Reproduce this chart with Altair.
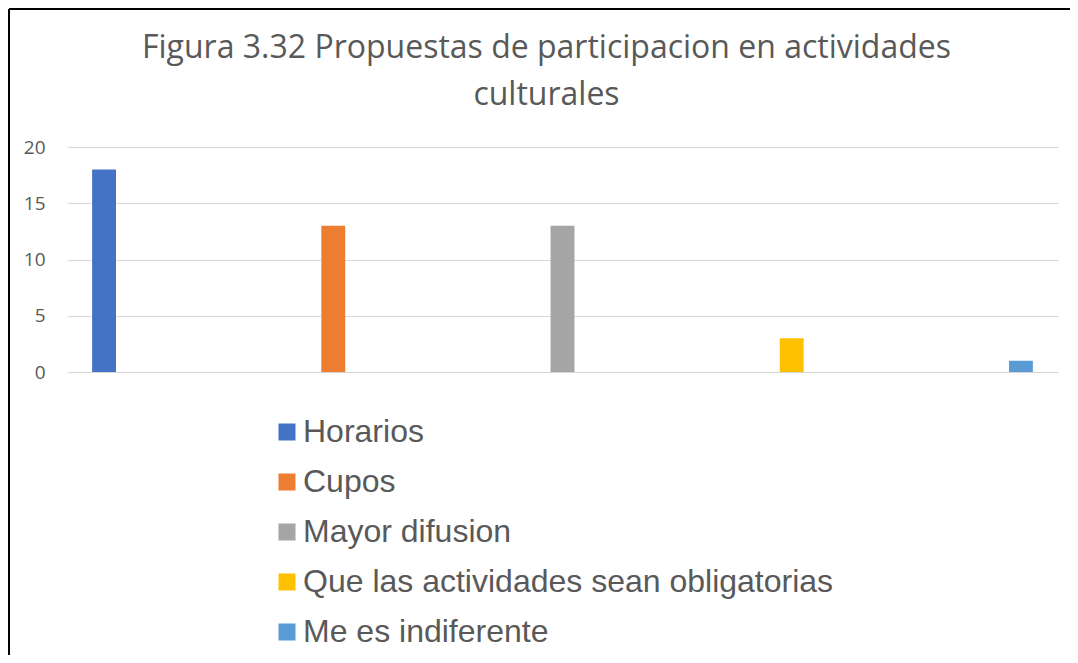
import altair as alt
import pandas as pd

categories = ["Horarios", "Cupos", "Mayor difusion",
              "Que las actividades sean obligatorias", "Me es indiferente"]
values = [18, 13, 13, 3, 1]
colors = ["#4472C4", "#ED7D31", "#A5A5A5", "#FFC000", "#5B9BD5"]
y_ticks = [0, 5, 10, 15, 20]
title_lines = ["Figura 3.32 Propuestas de participacion en actividades", "culturales"]

df = pd.DataFrame({"categoria": categories, "serie": categories, "valor": values})

W, H = 991, 225

bars = alt.Chart(df).mark_bar().encode(
    x=alt.X("categoria:N", sort=categories, axis=None,
            scale=alt.Scale(paddingInner=0, paddingOuter=0)),
    xOffset=alt.XOffset("serie:N", sort=categories,
                        scale=alt.Scale(domain=categories, paddingInner=0.23, paddingOuter=0.81)),
    y=alt.Y("valor:Q", scale=alt.Scale(domain=[0, 20]),
            axis=alt.Axis(values=y_ticks, title=None, domain=False, ticks=False,
                          labelPadding=22, labelFont="Open Sans", labelFontSize=19,
                          labelColor="#595959", gridColor="#D9D9D9", gridWidth=1)),
    color=alt.Color("serie:N", sort=categories,
                    scale=alt.Scale(domain=categories, range=colors),
                    legend=alt.Legend(orient="none", legendX=204, legendY=269,
                                      direction="vertical", title=None,
                                      symbolType="square", symbolSize=289,
                                      symbolStrokeWidth=0, symbolOpacity=1,
                                      labelFont="Liberation Sans", labelFontSize=32,
                                      labelColor="#595959", rowPadding=18,
                                      labelOffset=0, labelLimit=0)),
)

frame_data = alt.Data(values=[{"k": 1}])
top = alt.Chart(frame_data).mark_rule(color="black", strokeWidth=2).encode(
    x=alt.value(-58), x2=alt.value(W + 12), y=alt.value(-138))
left = alt.Chart(frame_data).mark_rule(color="black", strokeWidth=2).encode(
    x=alt.value(-58), y=alt.value(-138), y2=alt.value(H + 283))

chart = alt.layer(bars, top, left).properties(
    width=W, height=H,
    title=alt.Title(text=title_lines, fontSize=32, font="Open Sans", color="#595959",
                    fontWeight="normal", lineHeight=47, offset=-104, dx=-16, anchor="middle"),
    padding={"left": 59, "top": 139, "right": 12, "bottom": 283},
    autosize="none",
).configure_view(stroke=None)

chart.save("out.html", embed_options={"renderer": "svg", "actions": False})
